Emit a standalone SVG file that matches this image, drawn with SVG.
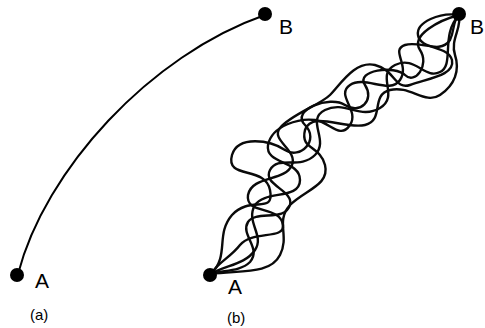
<svg xmlns="http://www.w3.org/2000/svg" width="485" height="328" viewBox="0 0 485 328">
<style>
.ln{fill:none;stroke:#000;stroke-width:2;stroke-linecap:round;stroke-linejoin:round}
.tg{fill:none;stroke:#0a0a0a;stroke-width:2.4;stroke-linecap:round;stroke-linejoin:round}
.dot{fill:#000}
.lbl{font-family:"Liberation Sans",Arial,sans-serif;font-size:21px;fill:#000}
.cap{font-family:"Liberation Sans",Arial,sans-serif;font-size:15px;fill:#000}
</style>
<rect width="485" height="328" fill="#fff"/>
<g id="panel-a">
<path class="ln" d="M18,274 C45,170 150,55 265,15"/>
<g id="a-A"><circle class="dot" cx="17" cy="275" r="7"/><text class="lbl" x="35" y="288">A</text></g>
<g id="a-B"><circle class="dot" cx="265" cy="14" r="7"/><text class="lbl" x="279" y="34">B</text></g>
<text class="cap" x="30" y="320">(a)</text>
</g>
<g id="panel-b">
<g id="paths">
<path class="tg" d="M211,274 C230,255 215,235 232,215 C250,195 275,215 270,190 C265,165 225,180 232,155 C238,135 270,140 285,150 C300,160 320,140 305,125 C290,110 330,95 345,105 C360,115 375,100 365,85 C355,70 395,65 405,75 C415,85 430,65 420,50 C410,35 440,20 459,15"/>
<path class="tg" d="M211,274 C240,270 270,275 280,255 C290,235 275,222 290,205 C305,190 330,185 325,165 C320,145 300,150 305,130 C312,110 345,130 365,125 C385,120 370,95 390,90 C410,85 425,105 440,95 C455,85 460,70 455,55 C450,40 462,28 459,15"/>
<path class="tg" d="M211,274 C225,265 245,265 255,250 C265,235 245,222 255,205 C265,190 300,200 300,180 C300,160 265,165 268,145 C272,125 300,118 315,120 C330,122 340,140 350,125 C360,110 335,95 350,85 C365,75 390,95 400,80 C410,65 390,50 405,45 C420,40 440,55 450,40 C455,30 452,22 459,15"/>
<path class="tg" d="M211,274 C218,262 230,258 240,245 C252,230 285,240 283,225 C280,205 245,215 248,195 C252,175 285,182 292,165 C298,150 270,140 280,128 C290,115 320,105 330,95 C340,85 355,60 375,65 C395,70 395,90 410,85 C430,78 455,75 452,60 C448,45 420,50 418,35 C416,22 440,12 459,15"/>
<path class="tg" d="M211,274 C222,270 240,272 250,262 C262,248 240,235 248,222 C256,210 285,222 290,205 C294,190 262,185 270,170 C278,155 300,170 315,155 C330,140 305,120 325,110 C345,100 360,120 380,108 C400,96 375,75 395,65 C415,55 425,80 440,72 C455,65 440,35 459,15"/>
</g>
<g id="b-A"><circle class="dot" cx="210" cy="275" r="7"/><text class="lbl" x="228" y="294">A</text></g>
<g id="b-B"><circle class="dot" cx="459" cy="14" r="7"/><text class="lbl" x="470" y="34">B</text></g>
<text class="cap" x="227" y="323">(b)</text>
</g>
</svg>
